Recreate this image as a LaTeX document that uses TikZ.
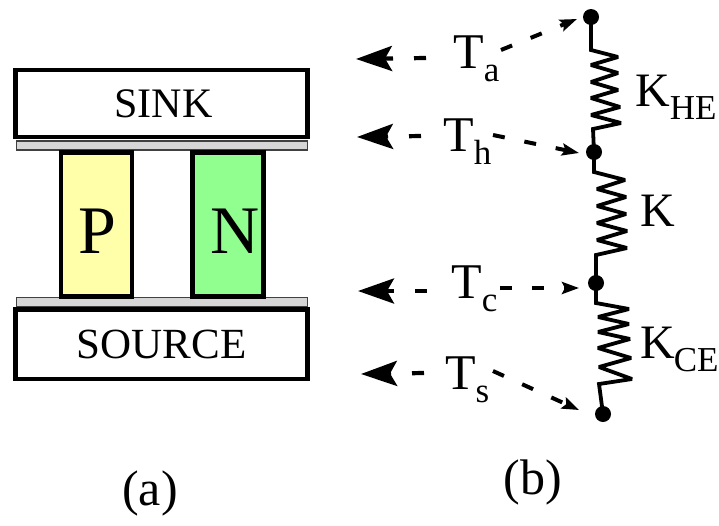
\documentclass[tikz,border=0pt]{standalone}
\usepackage{fontspec}
\setmainfont{Liberation Serif}
\usetikzlibrary{arrows.meta}
\newcommand{\fs}[1]{\fontsize{#1}{#1}\selectfont}
\newcommand{\Tsub}[1]{{\fs{50}T}\raisebox{-13pt}{\fs{35}#1}}
\newcommand{\Ksub}[2]{{\fs{48}K}\hspace{#2}\raisebox{-13pt}{\fs{35}#1}}
\definecolor{plategray}{HTML}{D6D6D6}
\definecolor{pyellow}{HTML}{FFFFAA}
\definecolor{ngreen}{HTML}{90FF90}
\tikzset{
  x=1pt,y=-1pt,
  slab/.style={draw=black,line width=4.5pt,fill=white,minimum width=292pt,inner sep=0pt},
  plate/.style={draw=black!75,line width=1.8pt,fill=plategray,minimum width=291pt,minimum height=9pt,inner sep=0pt},
  leg/.style={draw=black,line width=4.5pt,minimum width=71pt,minimum height=144pt,inner sep=0pt},
  legtext/.style={inner sep=0pt,font=\fs{68}},
  txt/.style={inner sep=0pt,anchor=base west},
  dot/.style={circle,fill=black,minimum size=16pt,inner sep=0pt},
  spring/.style={line width=3.8pt,line join=miter,miter limit=3},
  big/.style={line width=4.2pt,dash pattern=on 12pt off 21pt,-{Stealth[length=36pt,width=25pt,inset=7pt]}},
  small/.style={line width=4pt,dash pattern=on 12pt off 20pt,-{Stealth[length=17pt,width=12pt,inset=3pt]}},
}
\begin{document}
\begin{tikzpicture}
\useasboundingbox (0,0) rectangle (719,525);
% module (a)
\node[plate] (ptop) at (162,145.5) {};
\node[plate] (pbot) at (162,302) {};
\node[slab,minimum height=67pt,font=\fs{42}] (sink) at (161.5,103.5) {\hspace{4pt}SINK};
\node[slab,minimum height=69.5pt,font=\fs{43}] (source) at (161.5,344.25) {SOURCE};
\node[leg,fill=pyellow] (pleg) at (96.5,224.5) {};
\node[leg,fill=ngreen] (nleg) at (228,224.5) {};
\node[legtext] (ptext) at (97,231) {P};
\node[legtext] (ntext) at (235,231) {N};
\node[inner sep=0pt,font=\fs{50}] (capa) at (150,493) {(a)};
\node[inner sep=0pt,font=\fs{50}] (capb) at (533,482) {(b)};
% network (b)
\node[dot] (d1) at (591,17) {};
\node[dot] (d2) at (594,152) {};
\node[dot] (d3) at (596,283) {};
\node[dot] (d4) at (603,414) {};
\draw[spring] (d1.center) -- (591,50) -- (618,57) -- (591,65) -- (618,73) -- (591,82) -- (618,90) -- (591,98) -- (620,107) -- (591,115) -- (621,123) -- (593,129) -- (d2.center);
\draw[spring] (d2.center) -- (594,172) -- (625,180) -- (597,189) -- (626,197) -- (597,206) -- (626,214) -- (597,223) -- (627,231) -- (597,240) -- (627,248) -- (596,255) -- (d3.center);
\draw[spring] (d3.center) -- (596,303) -- (629,309) -- (598,317) -- (629,324) -- (598,332) -- (630,339) -- (598,348) -- (631,358) -- (599,367) -- (632,379) -- (599,384) -- (d4.center);
\node[txt] (Ta) at (453,68) {\Tsub{a}};
\node[txt] (Th) at (443,151) {\Tsub{h}};
\node[txt] (Tc) at (451,298) {\Tsub{c}};
\node[txt] (Ts) at (445,389) {\Tsub{s}};
\node[txt] (Khe) at (635,106) {\Ksub{HE}{0pt}};
\node[txt,font=\fs{48}] (K) at (640,226) {K};
\node[txt] (Kce) at (640,358) {\Ksub{CE}{-1pt}};
\coordinate (la) at (356,59);
\coordinate (lh) at (357,137);
\coordinate (lc) at (358,291);
\coordinate (ls) at (361,374);
\draw[big] ([shift={(-27,-10)}]Ta.base west) -- (la);
\draw[big] ([shift={(-22,-15)}]Th.base west) -- (lh);
\draw[big] ([shift={(-24,-7)}]Tc.base west) -- (lc);
\draw[big] ([shift={(-21,-16)}]Ts.base west) -- (ls);
\draw[small] ([shift={(48,-18)}]Ta.base west) -- ([shift={(-14,2)}]d1.center);
\draw[small] ([shift={(50,-16)}]Th.base west) -- ([shift={(-15,1)}]d2.center);
\draw[small] ([shift={(49,-10)}]Tc.base west) -- ([shift={(-17,5)}]d3.center);
\draw[small] ([shift={(48,-18)}]Ts.base west) -- ([shift={(-24,-4)}]d4.center);
\end{tikzpicture}
\end{document}
